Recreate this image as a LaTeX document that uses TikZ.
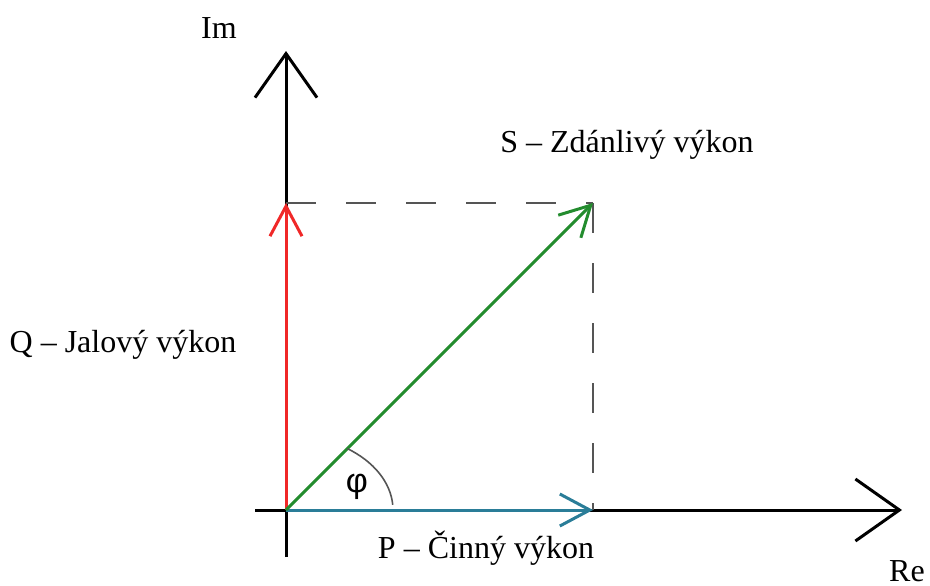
\documentclass[tikz,border=0pt]{standalone}
\usepackage{fontspec}
\setmainfont{Liberation Serif}
\newfontfamily\phifont{Liberation Sans}
\usetikzlibrary{arrows.meta}
\definecolor{QRed}{HTML}{F02828}
\definecolor{SGreen}{HTML}{238C2E}
\definecolor{PBlue}{HTML}{2A7D98}
\definecolor{DashGray}{HTML}{555555}
\tikzset{
  every picture/.style={line width=1.5pt},
  axis/.style={draw=black, -{Straight Barb[length=22pt, width=31pt, line width=1.5pt]}},
  vec/.style={-{Straight Barb[length=15pt, width=16pt, line width=1.5pt]}},
  helper/.style={draw=DashGray, line width=1.4pt, dash pattern=on 15pt off 15pt},
  lbl/.style={font=\fontsize{16}{19}\selectfont, inner sep=0pt, anchor=base}
}

\begin{document}
\begin{tikzpicture}[x=0.5pt, y=-0.5pt]
  \useasboundingbox (0,0) rectangle (930,585);

  \coordinate (O) at (286,510);
  \coordinate (imlo) at (286,557);
  \coordinate (imhi) at (286,51);
  \coordinate (relo) at (255,510);
  \coordinate (rehi) at (902,510);
  \coordinate (Q) at (286,203);
  \coordinate (S) at (593,203);
  \coordinate (P) at (593,510);

  % axes
  \draw[axis] (relo) -- (rehi);
  \draw[axis] (imlo) -- (imhi);

  % projections
  \draw[helper] (Q) -- (S);
  \draw[helper] (S) -- (P);

  % vectors
  \draw[vec, draw=QRed] (O) -- (Q);
  \draw[vec, draw=PBlue] (O) -- (P);
  \draw[vec, draw=SGreen] (O) -- (S);

  % angle
  \draw[line width=0.8pt, draw=DashGray] (O) ++(-4:107 and 75) arc[start angle=-4, end angle=-55, x radius=107, y radius=75];
  \node[font=\phifont\fontsize{17}{19}\selectfont, inner sep=0pt] (phi) at (357,487) {φ};

  \node[lbl] (im) at (219,38) {Im};
  \node[lbl] (re) at (907,581) {Re};
  \node[lbl] (slbl) at (627,152) {S – Zdánlivý výkon};
  \node[lbl] (qlbl) at (123,352) {Q – Jalový výkon};
  \node[lbl] (plbl) at (486,558) {P – Činný výkon};
\end{tikzpicture}
\end{document}
